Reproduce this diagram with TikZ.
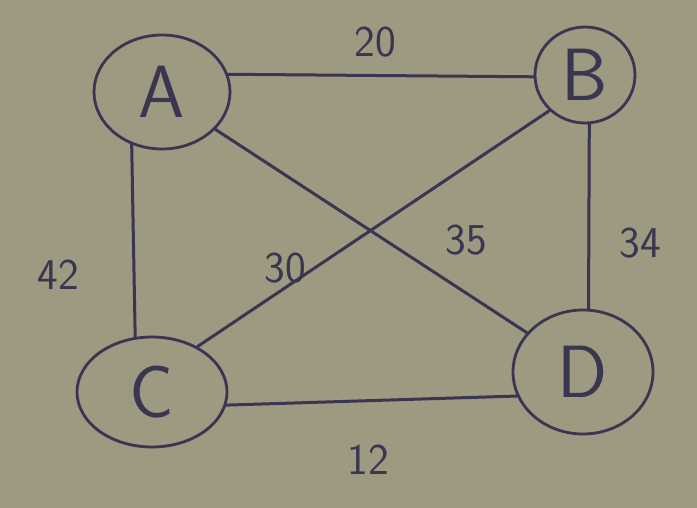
\documentclass[tikz,border=0pt]{standalone}
\usepackage{xcolor}
\usetikzlibrary{shapes.geometric}
\definecolor{paper}{HTML}{9E9981}
\definecolor{ink}{HTML}{3A3550}
\tikzset{
  vertex/.style={ellipse, draw=ink, line width=2.8pt, inner sep=0pt,
    font=\sffamily\fontsize{74}{74}\selectfont, text=ink},
  edge/.style={draw=ink, line width=3pt, line cap=round},
  weight/.style={font=\sffamily\fontsize{44}{44}\selectfont, text=ink},
}

\begin{document}
\begin{tikzpicture}[x=1pt,y=-1pt]

% -----------------------------------------------------------------------------
% paper
% -----------------------------------------------------------------------------
\fill[paper] (0,0) rectangle (697,508);
\useasboundingbox (0,0) rectangle (697,508);

% -----------------------------------------------------------------------------
% vertices
% -----------------------------------------------------------------------------
\node[vertex, minimum width=136pt, minimum height=114pt] (A) at (162,92) {A};
\node[vertex, minimum width=100pt, minimum height=96pt] (B) at (585,75) {B};
\node[vertex, minimum width=150pt, minimum height=110pt] (C) at (152,392) {C};
\node[vertex, minimum width=140pt, minimum height=124pt] (D) at (583,372) {D};

% -----------------------------------------------------------------------------
% edges and weights
% -----------------------------------------------------------------------------
\draw[edge] (A.15) -- (B.182);
\draw[edge] (A.240) -- (C.107);
\draw[edge] (B.225) -- (C.45);
\draw[edge] (A.325) -- (D.145);
\draw[edge] (B.275) -- (D.85);
\draw[edge] (C.350) -- (D.200);

\node[weight] (wAB) at (375,42) {20};
\node[weight] (wAC) at (58,275) {42};
\node[weight] (wBC) at (285,268) {30};
\node[weight] (wAD) at (466,240) {35};
\node[weight] (wBD) at (640,243) {34};
\node[weight] (wCD) at (368,460) {12};

\end{tikzpicture}
\end{document}
